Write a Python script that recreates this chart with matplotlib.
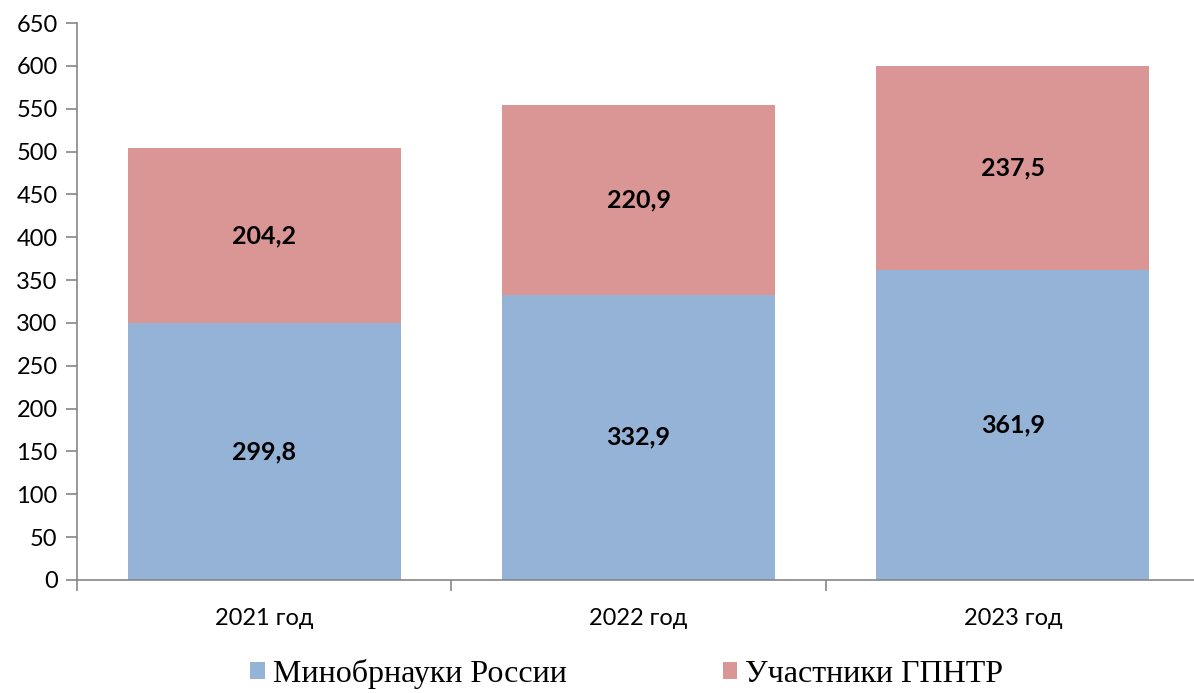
import matplotlib
matplotlib.use("Agg")
import matplotlib.pyplot as plt
import numpy as np

categories = ["2021 год", "2022 год", "2023 год"]
minobr = [299.8, 332.9, 361.9]
uchastniki = [204.2, 220.9, 237.5]
series_names = ["Минобрнауки России", "Участники ГПНТР"]
yticks = list(range(0, 651, 50))

blue = "#95B3D7"
red = "#D99694"
axis_col = "#868686"

fig = plt.figure(figsize=(11.94, 6.93), dpi=100)
ax = fig.add_axes([77/1194, 1-580/693, (1200-77)/1194, (580-23)/693])

x = np.arange(len(categories))
w = 0.73
b1 = ax.bar(x, minobr, w, color=blue, label=series_names[0])
b2 = ax.bar(x, uchastniki, w, bottom=minobr, color=red, label=series_names[1])

for i in range(len(x)):
    ax.text(x[i], minobr[i]/2, f"{minobr[i]:.1f}".replace(".", ","), ha="center", va="center",
            fontsize=18, fontweight="bold", family="Lato")
    ax.text(x[i], minobr[i] + uchastniki[i]/2, f"{uchastniki[i]:.1f}".replace(".", ","), ha="center", va="center",
            fontsize=18, fontweight="bold", family="Lato")

ax.set_xlim(-0.5, len(categories)-0.5)
ax.set_ylim(0, 650)
ax.set_yticks(yticks)
ax.set_yticklabels([str(t) for t in yticks], family="Lato", fontsize=17)
ax.set_xticks(x)
ax.set_xticklabels(categories, family="Lato", fontsize=17)
ax.tick_params(axis="x", which="major", length=0, pad=20)
ax.set_xticks(np.arange(len(categories)+1) - 0.5, minor=True)
ax.tick_params(axis="x", which="minor", length=8, color=axis_col, width=1.2)
ax.tick_params(axis="y", length=8, color=axis_col, width=1.2, pad=6)

for s in ["top", "right"]:
    ax.spines[s].set_visible(False)
for s in ["left", "bottom"]:
    ax.spines[s].set_color(axis_col)
    ax.spines[s].set_linewidth(1.2)

leg = fig.legend(handles=[b1, b2], labels=series_names, loc="center", bbox_to_anchor=(0.525, 0.028),
                 ncol=2, frameon=False, prop={"family": "Liberation Serif", "size": 23},
                 handlelength=0.45, handleheight=0.45, handletextpad=0.25, columnspacing=4.9,
                 borderpad=0.0)

fig.savefig("out.png", dpi=100)
